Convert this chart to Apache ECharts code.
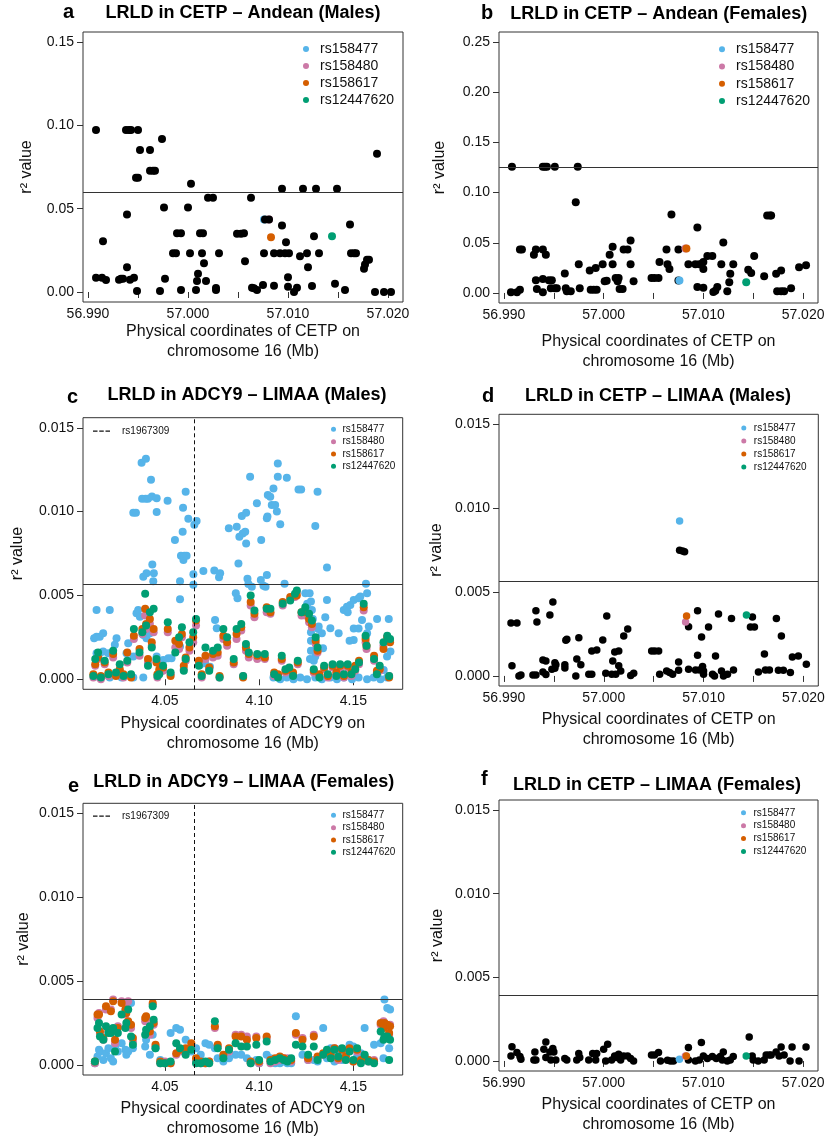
<!DOCTYPE html>
<html><head><meta charset="utf-8">
<script src="https://cdn.jsdelivr.net/npm/echarts@6/dist/echarts.min.js"></script>
<style>html,body{margin:0;padding:0;background:#fff}#c{width:828px;height:1141px}</style>
</head><body><div id="c"></div><script>
// ---------- shared ----------
const snpNames = ['rs158477','rs158480','rs158617','rs12447620'];
const snpColors = ['#56B4E9','#CC79A7','#D55E00','#009E73'];
const cetpTicks = [56.990,56.995,57.000,57.005,57.010,57.015,57.020];
const cetpLabels = [56.990,57.000,57.010,57.020];
const adcyTicks = [4.05,4.10,4.15];
const yTicksA = [0,0.05,0.10,0.15];
const yTicksB = [0,0.05,0.10,0.15,0.20,0.25];
const yTicksSmall = [0,0.005,0.010,0.015];
const rs1967309 = 4.0658;
const thresholds = {a:0.0597,b:0.1248,c:0.00568,d:0.00566,e:0.00389,f:0.00392};

// ---------- panel a: CETP Andean males ----------
const aOther = [[56.9908,.0972],[56.9938,.0972],[56.9941,.0972],[56.9943,.0972],[56.9950,.0972],
[56.9952,.0852],[56.9962,.0852],[56.9948,.0685],[56.9950,.0685],[56.9962,.0727],[56.9965,.0727],[56.9967,.0727],
[56.9974,.0918],[57.0003,.065],[57.0094,.062],[57.0115,.062],[57.0128,.062],[57.0149,.062],[57.0189,.0829],
[57.0020,.0566],[57.0025,.0566],[57.0063,.0566],[56.9976,.0507],[57.0000,.0507],[56.9939,.0465],
[57.0077,.0435],[57.0081,.0435],[57.0094,.0399],[57.0162,.0405],
[56.9989,.0352],[56.9993,.0352],[57.0012,.0352],[57.0015,.0352],[57.0049,.0349],[57.0053,.0349],[57.0056,.0352],
[57.0098,.0298],[57.0126,.0334],[56.9915,.0304],
[56.9985,.0232],[56.9988,.0232],[57.0002,.0232],[57.0014,.0232],[57.0031,.0232],[57.0076,.0232],[57.0086,.0232],
[57.0092,.0232],[57.0097,.0232],[57.0101,.0232],[57.0112,.0215],[57.0119,.0232],[57.0131,.0232],
[57.0163,.0232],[57.0166,.0232],[57.0168,.0232],[57.0179,.0193],[57.0181,.0193],[57.0177,.0165],[57.0176,.0139],
[57.0057,.0185],[57.0016,.0173],[56.9939,.0149],[57.0120,.0149],[57.0010,.0109],[57.0100,.0089],
[56.9908,.0085],[56.9914,.0085],[56.9918,.0072],[56.9931,.0074],[56.9933,.008],[56.9935,.008],[56.9942,.0074],[56.9946,.0085],
[56.9977,.008],[57.0009,.0066],[57.0018,.0066],
[56.9949,.0006],[56.9972,.0006],[56.9993,.0012],[57.0008,.0012],[57.0028,.0024],[57.0028,.0012],
[57.0064,.0026],[57.0066,.0022],[57.0069,.0012],[57.0075,.0042],[57.0086,.0038],[57.0100,.0032],[57.0106,0],
[57.0109,.0026],[57.0124,.0036],[57.0147,.005],[57.0157,.0012],[57.0187,0],[57.0196,0],[57.0203,0]];
const aSnp = [[57.0076,.0435],[57.0081,.0435],[57.0083,.0328],[57.0144,.0334]];

// ---------- panel b: CETP Andean females ----------
const bOther = [[56.9908,.1258],[56.9939,.1258],[56.9941,.1258],[56.9943,.1258],[56.9951,.1258],[56.9974,.1258],
[56.9972,.0904],[57.0068,.0781],[57.0164,.0772],[57.0167,.0772],[57.0168,.0772],
[57.0094,.0652],[57.0027,.0523],[57.0120,.0503],
[56.9916,.0434],[56.9918,.0434],[56.9932,.0434],[56.9939,.0434],[56.9930,.0381],[56.9942,.0381],
[57.0009,.046],[57.0020,.0434],[57.0024,.0434],[57.0063,.0434],[57.0075,.0434],
[57.0006,.0381],[56.9975,.0285],[56.9999,.0285],[57.0009,.0285],[57.0027,.0285],
[57.0056,.0308],[57.0064,.0285],[57.0066,.0238],
[57.0085,.0285],[57.0092,.0285],[57.0096,.0285],[57.0098,.0285],[57.0100,.0308],[57.0100,.0238],
[57.0104,.0368],[57.0109,.0368],[57.0118,.0285],[57.0130,.0285],[57.0151,.0368],
[57.0145,.0232],[57.0148,.0199],[57.0127,.0192],[57.0173,.0192],[57.0178,.0225],
[57.0196,.0255],[57.0203,.0275],[57.0161,.0166],
[56.9986,.0225],[56.9992,.0248],[56.9961,.0195],
[57.0001,.0116],[57.0003,.0122],[57.0012,.0149],[57.0015,.0149],[57.0014,.0116],[57.0030,.0116],
[57.0048,.0149],[57.0051,.0149],[57.0055,.0149],[57.0075,.0123],[57.0126,.0106],
[56.9932,.0126],[56.9939,.0139],[56.9945,.0126],[56.9948,.0126],
[56.9907,.0007],[56.9913,.0007],[56.9916,.0033],[56.9933,.004],[56.9939,.0007],
[56.9947,.0046],[56.9951,.0046],[56.9953,.0046],[56.9962,.0046],[56.9963,.0017],[56.9967,.0017],
[56.9976,.0046],[56.9987,.0033],[56.9990,.0033],[56.9993,.0033],[57.0016,.004],[57.0019,.004],
[57.0094,.006],[57.0100,.0053],[57.0110,.001],[57.0112,.0023],[57.0114,.006],[57.0124,.0017],
[57.0174,.0017],[57.0178,.0017],[57.0181,.0017],[57.0188,.0046]];
const bSnp = [[57.0076,.0123],[57.0082,.0444],[57.0083,.0444],[57.0143,.0106]];

// ---------- panel c: ADCY9 LIMAA males ----------
const cBlue = [[4.0332,.00993],[4.0346,.00993],[4.0376,.01291],[4.0399,.01315],[4.0379,.01077],[4.0397,.01077],[4.0410,.01077],
[4.0426,.0119],[4.0431,.0109],[4.0456,.0108],[4.0456,.00997],[4.0514,.01065],[4.0610,.01119],[4.0596,.01023],[4.0624,.00958],
[4.0668,.00944],[4.0656,.00922],[4.0594,.0088],[4.0553,.0083],[4.0585,.00737],[4.0598,.00711],[4.0603,.00737],[4.0615,.00737],
[4.0433,.00685],[4.0385,.00612],[4.0402,.00632],[4.0441,.00632],[4.0438,.00584],[4.0580,.00584],[4.0651,.00626],[4.0651,.00564],
[4.0704,.00646],[4.0762,.00648],[4.0793,.00632],[4.0787,.00608],[4.0839,.009],[4.0881,.0091],[4.0890,.00691],[4.0908,.00973],
[4.0931,.00993],[4.0895,.0085],[4.0913,.0087],[4.0926,.0088],[4.0931,.0081],[4.0952,.01208],[4.0988,.01049],[4.1011,.0083],
[4.1041,.0096],[4.1044,.0097],[4.1046,.01099],[4.1059,.01089],[4.1076,.01138],[4.1067,.01039],[4.1085,.01039],[4.1094,.01],
[4.1099,.01287],[4.1099,.01208],[4.1112,.00924],[4.1147,.01202],[4.1209,.01132],[4.1223,.01132],[4.1310,.01119],[4.1298,.00914],
[4.1360,.00666],[4.1041,.00622],[4.1009,.00592],[4.0938,.006],[4.1135,.0057],[4.1567,.0057],
[4.0580,.00477],[4.0876,.00513],[4.0885,.00483],[4.0943,.00568],[4.0961,.00552],[4.1023,.00558],[4.1034,.00552],[4.1245,.00513],
[4.1268,.00513],[4.1275,.00463],[4.1360,.00473],[4.1351,.0037],[4.1280,.00413],[4.1449,.00413],[4.1466,.00433],[4.1484,.00443],
[4.1502,.00473],[4.1528,.00483],[4.1537,.00493],[4.1502,.00302],[4.1528,.00302],[4.1546,.00354],[4.1573,.00513],[4.1626,.0036],
[4.1688,.0036],[4.1573,.00274],[4.1582,.00314],[4.1502,.00234],[4.1422,.00274],[4.1378,.00304],[4.1333,.00274],[4.1316,.00314],
[4.1339,.00185],[4.1298,.00135],[4.0137,.00413],[4.0207,.00413],[4.0124,.00244],[4.0137,.00254],[4.0154,.00254],[4.0172,.00274],
[4.0243,.00244],[4.0234,.00205],[4.0305,.00215],[4.0349,.00393],[4.0358,.00413],[4.0367,.00373],[4.0385,.00264],[4.0402,.00244],
[4.0420,.00274],[4.0137,.00155],[4.0154,.00155],[4.0172,.00165],[4.0199,.00155],[4.0296,.00155],[4.0332,.00135],[4.0456,.00135],
[4.0491,.00115],[4.0518,.00125],[4.0535,.00125],[4.0580,.00195],[4.0686,.00085],[4.0713,.00095],[4.0739,.00075],[4.0766,.00354],
[4.0775,.00304],[4.1255,.0045],[4.1255,.0042],[4.1285,.0036],[4.1275,.0028],[4.1275,.0023],[4.1275,.0017],[4.1314,.0030],
[4.1470,.0040],[4.1480,.0023],[4.1270,.0012],[4.1290,.0011],
[4.1076,.0001],[4.1112,0],[4.1147,.0001],[4.1182,0],[4.1218,.0001],[4.1254,0],[4.1298,.0001],[4.1333,0],[4.1378,.0001],
[4.1413,0],[4.1449,.0001],[4.1493,0],[4.1528,.0001],[4.1573,0],[4.1608,.0001],[4.1644,0],[4.1679,.0001],
[4.0154,.0001],[4.0207,.0001],[4.0270,.0001],[4.0332,.0001],[4.0385,.0001],[4.1679,.00135],[4.1697,.00165],[4.1661,.00055]];
const cPos = [4.0120,4.0130,4.0145,4.0160,4.0180,4.0200,4.0225,4.0240,4.0260,4.0280,
4.0300,4.0320,4.0335,4.0365,4.0380,4.0395,4.0400,4.0410,4.0420,4.0430,
4.0440,4.0455,4.0460,4.0470,4.0490,4.0515,4.0530,4.0555,4.0575,4.0590,
4.0600,4.0610,4.0630,4.0650,4.0665,4.0680,4.0695,4.0715,4.0735,4.0755,
4.0780,4.0790,4.0810,4.0830,4.0865,4.0880,4.0905,4.0915,4.0930,4.0945,
4.0955,4.0975,4.0990,4.1030,4.1040,4.1060,4.1080,4.1100,4.1120,4.1125,
4.1140,4.1160,4.1165,4.1180,4.1190,4.1200,4.1205,4.1225,4.1245,4.1265,
4.1280,4.1290,4.1300,4.1310,4.1320,4.1345,4.1365,4.1390,4.1410,4.1430,
4.1450,4.1470,4.1490,4.1510,4.1530,4.1555,4.1565,4.1570,4.1610,4.1625,
4.1640,4.1660,4.1680,4.1690,4.1695];
const cPink = [.0001,.0008,.0012,.0000,.0009,.0002,.0013,.0003,.0005,.0001,
.0010,.0002,.0024,.0014,.0027,.0038,.0030,.0010,.0033,.0020,
.0028,.0011,.0001,.0004,.0005,.0028,.0003,.0019,.0018,.0025,
.0006,.0011,.0017,.0022,.0032,.0009,.0001,.0012,.0006,.0013,
.0014,.0001,.0024,.0020,.0009,.0024,.0029,.0002,.0017,.0013,
.0044,.0037,.0012,.0012,.0040,.0039,.0002,.0002,.0011,.0044,
.0004,.0005,.0048,.0003,.0049,.0052,.0009,.0038,.0038,.0034,
.0031,.0004,.0021,.0016,.0002,.0006,.0001,.0007,.0003,.0006,
.0001,.0007,.0002,.0005,.0009,.0041,.0022,.0018,.0011,.0004,
.0005,.0020,.0025,.0002,.0023];
const cOrange = [.0003,.0009,.0013,.0002,.0010,.0004,.0015,.0002,.0006,.0003,
.0016,.0001,.0026,.0018,.0030,.0042,.0033,.0012,.0036,.0022,
.0030,.0010,.0003,.0006,.0007,.0030,.0002,.0023,.0021,.0027,
.0008,.0013,.0019,.0025,.0035,.0011,.0003,.0014,.0007,.0015,
.0016,.0002,.0026,.0022,.0010,.0027,.0031,.0001,.0019,.0015,
.0046,.0039,.0014,.0013,.0043,.0040,.0004,.0003,.0012,.0046,
.0005,.0006,.0049,.0004,.0050,.0050,.0010,.0040,.0040,.0036,
.0033,.0005,.0023,.0017,.0003,.0007,.0002,.0008,.0004,.0008,
.0002,.0008,.0004,.0008,.0011,.0043,.0024,.0020,.0014,.0005,
.0006,.0018,.0025,.0001,.0022];
const cGreen = [.0002,.0012,.0016,.0001,.0011,.0003,.0017,.0004,.0009,.0002,
.0011,.0003,.0030,.0016,.0028,.0051,.0032,.0008,.0040,.0019,
.0042,.0012,.0002,.0003,.0008,.0034,.0004,.0016,.0025,.0031,
.0005,.0012,.0022,.0028,.0036,.0008,.0002,.0019,.0005,.0017,
.0019,.0001,.0030,.0025,.0012,.0030,.0033,.0002,.0021,.0016,
.0050,.0041,.0015,.0015,.0042,.0042,.0003,.0001,.0014,.0045,
.0006,.0007,.0047,.0002,.0051,.0053,.0011,.0040,.0043,.0039,
.0035,.0006,.0025,.0019,.0001,.0008,.0003,.0009,.0002,.0009,
.0003,.0009,.0003,.0006,.0010,.0045,.0026,.0020,.0012,.0003,
.0008,.0022,.0026,.0002,.0024];

// ---------- panel d: CETP LIMAA males ----------
const dOther = [[57.0076,.0075],[57.0079,.00745],[57.0081,.0074],
[56.9949,.00441],[56.9932,.00389],[57.0094,.00389],
[56.9907,.00316],[56.9913,.00316],[56.9933,.00322],[56.9946,.00364],[57.0003,.00358],
[57.0085,.00294],[57.0115,.0037],[57.0128,.00342],[57.0149,.00352],[57.0147,.00292],[57.0151,.00292],
[57.0173,.00342],[57.0178,.00238],[57.0024,.0028],[57.0020,.00238],[57.0105,.00292],[57.0098,.00232],
[56.9975,.00228],[56.9962,.00213],[56.9963,.00218],[56.9999,.00215],
[56.9988,.00149],[56.9993,.00155],[57.0011,.00143],[57.0015,.00149],
[57.0048,.00149],[57.0051,.00149],[57.0055,.00149],[57.0094,.00123],[57.0112,.00119],[57.0161,.00131],
[57.0189,.00113],[57.0195,.00119],[57.0203,.0007],
[56.9973,.00101],[56.9977,.00066],[57.0009,.00089],[57.0015,.0006],
[56.9939,.00095],[56.9942,.00089],[56.9951,.00079],[56.9952,.00066],[56.9948,.0004],[56.9951,.00046],
[56.9961,.00066],[56.9961,.00048],[56.9908,.0006],
[56.9915,0],[56.9917,.00006],[56.9929,.00006],[56.9932,.00006],[56.9939,.00024],[56.9942,.00008],
[56.9972,0],[56.9985,.0001],[56.9988,.0001],[57.0002,.00016],
[57.0008,.0001],[57.0012,.0001],[57.0017,.0003],[57.0027,.00002],[57.0030,.00016],
[57.0056,.0001],[57.0063,.0003],[57.0066,.0002],[57.0069,.0001],[57.0075,.00034],[57.0075,.00083],
[57.0085,.0004],[57.0092,.00036],[57.0096,.00036],[57.0099,.00056],[57.0100,.0003],[57.0100,.0001],
[57.0109,.0001],[57.0111,0],[57.0118,.0003],[57.0120,0],[57.0124,.0001],[57.0130,.00036],
[57.0155,.00024],[57.0162,.00036],[57.0166,.00036],[57.0175,.00034],[57.0180,.00034],[57.0187,.0002]];
const dSnp = [[57.0076,.00924],[57.0082,.00322],[57.0083,.00358],[57.0143,.00364]];

// ---------- panel e: ADCY9 LIMAA females ----------
const ePos = [4.0128,4.0142,4.0150,4.0155,4.0173,4.0187,4.0200,4.0213,4.0225,4.0235,
4.0250,4.0270,4.0290,4.0295,4.0305,4.0320,4.0330,4.0395,4.0400,4.0420,
4.0435,4.0440,4.0450,4.0475,4.0500,4.0530,4.0560,4.0580,4.0610,4.0640,
4.0665,4.0690,4.0715,4.0735,4.0765,4.0780,4.0810,4.0840,4.0875,4.0905,
4.0935,4.0955,4.0985,4.1000,4.1040,4.1060,4.1085,4.1110,4.1130,4.1150,
4.1170,4.1195,4.1230,4.1260,4.1290,4.1310,4.1340,4.1360,4.1380,4.1400,
4.1420,4.1440,4.1460,4.1480,4.1500,4.1520,4.1540,4.1560,4.1580,4.1610,
4.1645,4.1660,4.1665,4.1680,4.1690,4.1695];
const eBlue = [.0001,.0005,.0009,.0008,.0003,.0007,.0010,.0004,.0002,.0011,
.0008,.0013,.0009,.0006,.0008,.0037,.0010,.0011,.0015,.0006,
.0018,.0025,.0010,.0003,.0001,.0019,.0022,.0021,.0015,.0008,
.0010,.0006,.0013,.0012,.0010,.0004,.0002,.0004,.0006,.0006,
.0004,.0002,.0003,.0001,.0006,.0004,.0001,.0001,.0002,.0001,
.0001,.0029,.0006,.0003,.0003,.0002,.0022,.0004,.0010,.0002,
.0009,.0003,.0006,.0012,.0011,.0005,.0007,.0022,.0003,.0012,
.0013,.0004,.0039,.0034,.0010,.0033];
const ePink = [.0001,.0028,.0031,.0019,.0015,.0033,.0020,.0033,.0039,.0013,
.0023,.0038,.0030,.0037,.0038,.0022,.0014,.0026,.0027,.0018,
.0036,.0024,.0011,.0001,.0002,.0001,.0006,.0008,.0008,.0011,
.0002,.0001,.0001,.0002,.0022,.0011,.0005,.0008,.0018,.0018,
.0017,.0001,.0017,.0001,.0016,.0001,.0002,.0003,.0004,.0004,
.0002,.0018,.0016,.0003,.0018,.0004,.0006,.0008,.0005,.0010,
.0003,.0009,.0004,.0009,.0002,.0008,.0002,.0004,.0002,.0003,
.0024,.0026,.0025,.0023,.0018,.0024];
const eOrange = [.0002,.0030,.0030,.0020,.0016,.0035,.0021,.0032,.0038,.0015,
.0022,.0037,.0033,.0031,.0026,.0024,.0016,.0028,.0029,.0020,
.0037,.0025,.0012,.0002,.0001,.0001,.0007,.0009,.0010,.0013,
.0004,.0002,.0001,.0002,.0023,.0012,.0006,.0010,.0017,.0017,
.0015,.0002,.0016,.0002,.0017,.0003,.0004,.0005,.0004,.0003,
.0003,.0019,.0015,.0004,.0017,.0005,.0007,.0008,.0006,.0010,
.0004,.0009,.0005,.0010,.0002,.0009,.0003,.0005,.0003,.0002,
.0025,.0022,.0025,.0024,.0019,.0023];
const eGreen = [.0002,.0022,.0025,.0017,.0015,.0023,.0019,.0019,.0022,.0008,
.0019,.0030,.0022,.0025,.0033,.0017,.0012,.0018,.0021,.0023,
.0035,.0027,.0010,.0001,.0001,.0002,.0013,.0010,.0006,.0009,
.0001,.0001,.0002,.0001,.0026,.0010,.0004,.0009,.0013,.0011,
.0011,.0001,.0012,.0003,.0014,.0002,.0003,.0004,.0003,.0002,
.0004,.0012,.0011,.0006,.0011,.0003,.0006,.0009,.0004,.0009,
.0005,.0010,.0003,.0008,.0003,.0010,.0001,.0006,.0002,.0001,
.0020,.0015,.0017,.0017,.0003,.0015];

// ---------- panel f: CETP LIMAA females ----------
const fOther = [[56.9908,.00085],[56.9907,.0003],[56.9913,.0005],[56.9916,.00026],[56.9917,.0001],
[56.9931,.00054],[56.9930,.00006],[56.9932,.00006],
[56.9940,.0007],[56.9942,.00113],[56.9942,.0002],[56.9946,.00054],[56.9949,.00074],[56.9950,.00054],[56.9947,.00006],[56.9952,.00006],
[56.9961,.00014],[56.9963,.00006],[56.9975,.00044],[56.9973,.00006],[56.9976,.0002],
[56.9985,.00006],[56.9989,.00044],[56.9992,.00006],[56.9993,.00044],[57.0000,.0007],[57.0004,.001],[57.0002,0],
[57.0008,.00006],[57.0011,.0003],[57.0013,.0002],[57.0015,.0004],[57.0017,.00006],[57.0020,.0003],[57.0024,.0003],[57.0027,.00014],[57.0030,0],
[57.0048,.00036],[57.0051,.00036],[57.0055,.0005],[57.0057,0],[57.0064,.00004],[57.0067,0],[57.0070,0],
[57.0085,.0008],[57.0085,.00006],
[57.0092,0],[57.0096,.00006],[57.0098,.0011],[57.0100,.0003],[57.0104,.00014],[57.0109,.00026],[57.0113,.00014],[57.0117,.00026],
[57.0120,.00054],[57.0119,.00006],[57.0124,0],[57.0127,.00006],[57.0130,.00026],[57.0146,.00143],
[57.0149,.0003],[57.0150,.00006],[57.0155,0],[57.0161,.00006],[57.0163,.00036],[57.0166,.00036],[57.0168,.00036],
[57.0173,.00054],[57.0176,.0003],[57.0178,.00083],[57.0181,.00036],[57.0187,0],[57.0189,.00083],[57.0196,0],[57.0203,.00083]];
const fSnp = [[57.0076,.0001],[57.0082,.0003],[57.0083,.0003],[57.0143,.0003]];

// ---------- layout ----------
const FONT = '"Liberation Sans", Arial, Helvetica, sans-serif';
const INK = '#111';
const LINE = '#333';
const CETP_RANGE = [56.9895, 57.0215];
const ADCY_RANGE = [4.0065, 4.1762];
const CETP_NAME = 'Physical coordinates of CETP on\nchromosome 16 (Mb)';
const ADCY_NAME = 'Physical coordinates of ADCY9 on\nchromosome 16 (Mb)';

const panels = [
 {k:'a', title:'LRLD in CETP \u2013 Andean (Males)', grid:[83,32,320,270], gene:'cetp', y:[-0.006,0.156], yt:yTicksA, yd:2,
  xGap:20, yGap:48, tX:243, tY:12.7, lX:63, lY:12.4, leg:[303,40.5,18,6,14,17], size:8, under:true},
 {k:'b', title:'LRLD in CETP \u2013 Andean (Females)', grid:[499,32,319,271], gene:'cetp', y:[-0.01,0.26], yt:yTicksB, yd:2,
  xGap:29, yGap:51, tX:658.7, tY:14.4, lX:481, lY:13.1, leg:[719,40.7,18,6,14,17.2], size:8},
 {k:'c', title:'LRLD in ADCY9 \u2013 LIMAA (Males)', grid:[83,417.7,319.7,271.6], gene:'adcy', y:[-0.0006,0.0156], yt:yTicksSmall, yd:3,
  xGap:24, yGap:57, tX:247, tY:395.1, lX:67, lY:397.4, leg:[331,423.2,8,5,10,12.3], dash:[93,424.9], size:8},
 {k:'d', title:'LRLD in CETP \u2013 LIMAA (Males)', grid:[499,414.3,319.3,271.7], gene:'cetp', y:[-0.0006,0.0156], yt:yTicksSmall, yd:3,
  xGap:24, yGap:54, tX:658, tY:396.1, lX:482, lY:396.8, leg:[741.3,421.5,10,5,10,13], size:7.5},
 {k:'e', title:'LRLD in ADCY9 \u2013 LIMAA (Females)', grid:[83,803.3,319.7,271.7], gene:'adcy', y:[-0.0006,0.0156], yt:yTicksSmall, yd:3,
  xGap:24, yGap:51, tX:243.8, tY:781.7, lX:68, lY:786.8, leg:[331,809.2,8,5,10,12.3], dash:[93,809.9], size:8},
 {k:'f', title:'LRLD in CETP \u2013 LIMAA (Females)', grid:[499,800,319,271], gene:'cetp', y:[-0.0006,0.0156], yt:yTicksSmall, yd:3,
  xGap:24, yGap:53, tX:657, tY:785.1, lX:481, lY:779.1, leg:[741,806.3,10,5,10,12.9], size:7.5}
];
const cetpData = {a:[aOther,aSnp], b:[bOther,bSnp], d:[dOther,dSnp], f:[fOther,fSnp]};
const adcyData = {
  c:[cBlue, cPos.map((x,i)=>[x,cPink[i]]), cPos.map((x,i)=>[x,cOrange[i]]), cPos.map((x,i)=>[x,cGreen[i]])],
  e:[ePos.map((x,i)=>[x,eBlue[i]]), ePos.map((x,i)=>[x,ePink[i]]), ePos.map((x,i)=>[x,eOrange[i]]), ePos.map((x,i)=>[x,eGreen[i]])]
};

const grids=[], xAxes=[], yAxes=[], series=[], legends=[], graphics=[];
function thrLine(v){ return {silent:true, symbol:['none','none'], label:{show:false}, animation:false, precision:10,
  lineStyle:{color:LINE, type:'solid', width:1}, emphasis:{disabled:true}, data:[{yAxis:v}]}; }
function sc(name, gi, data, color, size, extra){
  return Object.assign({type:'scatter', name, xAxisIndex:gi, yAxisIndex:gi, data, symbol:'circle', symbolSize:size,
    itemStyle:{color, opacity:1}, silent:true, animation:false, emphasis:{disabled:true}}, extra||{});
}
panels.forEach((p,gi)=>{
  const [L,T,W,H] = p.grid;
  grids.push({left:L, top:T, width:W, height:H, show:true, borderColor:LINE, borderWidth:1, backgroundColor:'transparent',
    containLabel:false, outerBoundsMode:'none'});
  const isC = p.gene==='cetp';
  xAxes.push({type:'value', gridIndex:gi, min:isC?CETP_RANGE[0]:ADCY_RANGE[0], max:isC?CETP_RANGE[1]:ADCY_RANGE[1],
    axisLine:{show:false}, splitLine:{show:false},
    axisTick:{show:true, customValues:isC?cetpTicks:adcyTicks, length:6, lineStyle:{color:LINE,width:1}},
    axisLabel:{customValues:isC?cetpLabels:adcyTicks, formatter:v=>isC?v.toFixed(3):v.toFixed(2), margin:5,
      fontSize:14, color:INK, fontFamily:FONT, showMinLabel:true, showMaxLabel:true, hideOverlap:false},
    name:isC?CETP_NAME:ADCY_NAME, nameLocation:'middle', nameGap:p.xGap, nameMoveOverlap:false,
    nameTextStyle:{fontSize:16, lineHeight:20, color:INK, fontFamily:FONT}});
  yAxes.push({type:'value', gridIndex:gi, min:p.y[0], max:p.y[1],
    axisLine:{show:false}, splitLine:{show:false},
    axisTick:{show:true, customValues:p.yt, length:6, lineStyle:{color:LINE,width:1}},
    axisLabel:{customValues:p.yt, formatter:v=>v.toFixed(p.yd), margin:9, fontSize:14, color:INK, fontFamily:FONT, hideOverlap:false},
    name:'r\u00B2 value', nameLocation:'middle', nameGap:p.yGap, nameMoveOverlap:false,
    nameTextStyle:{fontSize:16, color:INK, fontFamily:FONT}});
  if (isC){
    const [other, snp] = cetpData[p.k];
    const black = sc('other', gi, other, '#000', p.size, {markLine:thrLine(thresholds[p.k])});
    const cols = snp.map((pt,j)=>sc(snpNames[j], gi, [pt], snpColors[j], p.size));
    if (p.under){ series.push(...cols, black); } else { series.push(black, ...cols); }
  } else {
    const sets = adcyData[p.k];
    sets.forEach((d,j)=>series.push(sc(snpNames[j], gi, d, snpColors[j], p.size, j===0?{markLine:thrLine(thresholds[p.k])}:{})));
    series.push({type:'line', name:'rs1967309', xAxisIndex:gi, yAxisIndex:gi, data:[], symbol:'none', color:INK,
      lineStyle:{color:INK, width:1, type:[4,3]}, silent:true, animation:false, z:5,
      markLine:{silent:true, symbol:['none','none'], label:{show:false}, animation:false, precision:10, emphasis:{disabled:true},
        lineStyle:{color:INK, width:1, type:[4,3]}, data:[{xAxis:rs1967309}]}});
  }
  const [lx,ly,iw,ih,fs,lh] = p.leg;
  legends.push({data:snpNames, orient:'vertical', left:lx, top:ly, padding:0, itemGap:0, itemWidth:iw, itemHeight:ih,
    icon:'circle', selectedMode:false, textStyle:{fontSize:fs, lineHeight:lh, color:INK, fontFamily:FONT}});
  if (p.dash){
    legends.push({data:['rs1967309'], orient:'vertical', left:p.dash[0], top:p.dash[1], padding:0, itemGap:0, itemWidth:17, itemHeight:1.2,
      icon:'path://M0,0h4.5v1h-4.5z M6.25,0h4.5v1h-4.5z M12.5,0h4.5v1h-4.5z', symbolKeepAspect:false, selectedMode:false,
      itemStyle:{color:INK}, textStyle:{fontSize:10, lineHeight:12.3, color:INK, fontFamily:FONT, padding:[0,0,0,7]}});
  }
  graphics.push({type:'text', x:p.tX, y:p.tY, silent:true, style:{text:p.title, font:'bold 18px '+FONT, fill:'#000',
    textAlign:'center', textVerticalAlign:'middle'}});
  graphics.push({type:'text', x:p.lX, y:p.lY, silent:true, style:{text:p.k, font:'bold 20px '+FONT, fill:'#000',
    textAlign:'left', textVerticalAlign:'middle'}});
});

const chart = echarts.init(document.getElementById('c'), null, {renderer:'canvas'});
chart.setOption({animation:false, backgroundColor:'#fff', textStyle:{fontFamily:FONT},
  grid:grids, xAxis:xAxes, yAxis:yAxes, series, legend:legends, graphic:graphics, tooltip:{show:false}});
</script></body></html>
